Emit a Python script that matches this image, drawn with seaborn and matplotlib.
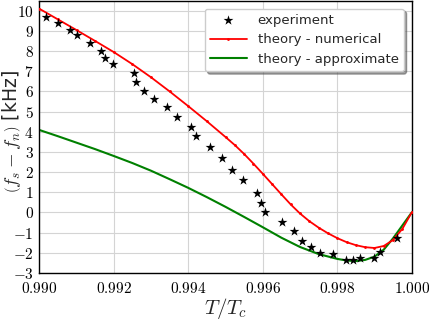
import matplotlib
matplotlib.use("Agg")
import matplotlib.pyplot as plt
from matplotlib.ticker import MultipleLocator, FuncFormatter
import seaborn as sns

# experiment (stars)
exp_T = [0.99017, 0.99050, 0.99083, 0.99100, 0.99137, 0.99166, 0.99177, 0.99199,
         0.99254, 0.99260, 0.99281, 0.99308, 0.99342, 0.99370, 0.99408, 0.99420,
         0.99458, 0.99490, 0.99518, 0.99547, 0.99585, 0.99596, 0.99607, 0.99652,
         0.99684, 0.99706, 0.99729, 0.99755, 0.99789, 0.99823, 0.99843, 0.99860,
         0.99899, 0.99915, 0.99960]
exp_df = [9.70, 9.39, 9.06, 8.80, 8.40, 8.02, 7.66, 7.34,
          6.93, 6.49, 6.04, 5.63, 5.21, 4.73, 4.24, 3.78,
          3.25, 2.70, 2.12, 1.59, 0.98, 0.48, 0.00, -0.47,
          -0.94, -1.40, -1.73, -2.02, -2.07, -2.37, -2.36, -2.27,
          -2.25, -1.98, -1.28]

# theory - numerical (red)
num_T = [0.9900, 0.9905, 0.9910, 0.9915, 0.9920, 0.9925, 0.9930, 0.9935, 0.9940,
         0.9945, 0.9950, 0.99525, 0.9955, 0.99575, 0.9960, 0.99625, 0.9965, 0.99675,
         0.9970, 0.99725, 0.9975, 0.99775, 0.9980, 0.99825, 0.9985, 0.99875,
         0.9990, 0.99925, 0.9995, 0.99975, 1.0000]
num_df = [10.10, 9.57, 9.04, 8.50, 7.95, 7.35, 6.70, 6.00, 5.27,
          4.52, 3.74, 3.34, 2.90, 2.42, 1.92, 1.41, 0.90, 0.40,
          -0.05, -0.43, -0.75, -1.03, -1.27, -1.47, -1.62, -1.72,
          -1.76, -1.66, -1.36, -0.81, 0.00]

# theory - approximate (green)
app_T = [0.9900, 0.9905, 0.9910, 0.9915, 0.9920, 0.9925, 0.9930, 0.9935, 0.9940,
         0.9945, 0.9950, 0.9955, 0.9960, 0.9965, 0.9970, 0.9975, 0.9980, 0.99825,
         0.9985, 0.99875, 0.9990, 0.99925, 0.9995, 0.99975, 1.0000]
app_df = [4.09, 3.78, 3.46, 3.14, 2.80, 2.45, 2.07, 1.65, 1.22,
          0.76, 0.28, -0.22, -0.73, -1.25, -1.71, -2.06, -2.30, -2.38,
          -2.41, -2.35, -2.19, -1.84, -1.28, -0.64, 0.00]

sns.set_theme(style="whitegrid")
plt.rcParams["font.family"] = ["DejaVu Sans"]
plt.rcParams["mathtext.fontset"] = "cm"

fig, ax = plt.subplots(figsize=(4.29, 3.21), dpi=100)
fig.subplots_adjust(left=0.0916, right=0.9597, top=0.998, bottom=0.1495)

sns.scatterplot(x=exp_T, y=exp_df, ax=ax, marker="*", s=55, color="black",
                edgecolor="black", linewidth=0, label="experiment", zorder=4)
sns.lineplot(x=num_T, y=num_df, ax=ax, color="red", lw=1.3, marker=".", ms=2.5,
             mec="red", label="theory - numerical", sort=False, estimator=None, zorder=3)
sns.lineplot(x=app_T, y=app_df, ax=ax, color="green", lw=1.5,
             label="theory - approximate", sort=False, estimator=None, zorder=2)

ax.set_xlim(0.990, 1.000)
ax.set_ylim(-3, 10.5)
ax.xaxis.set_major_locator(MultipleLocator(0.002))
ax.xaxis.set_minor_locator(MultipleLocator(0.001))
ax.yaxis.set_major_locator(MultipleLocator(1))
ax.yaxis.set_minor_locator(MultipleLocator(0.5))
ax.xaxis.set_major_formatter(FuncFormatter(lambda v, p: r"$%.3f$" % v))
ax.yaxis.set_major_formatter(FuncFormatter(lambda v, p: r"$%d$" % round(v)))
ax.tick_params(which="both", direction="in", colors="black", labelsize=11)
ax.tick_params(which="major", length=4, width=0.8)
ax.tick_params(which="minor", length=2.5, width=0.6)
ax.tick_params(axis="x", pad=6)
ax.tick_params(axis="y", pad=4)
ax.grid(True, which="major", color="#d4d4d4", lw=0.8)
for s in ax.spines.values():
    s.set_color("black")
    s.set_linewidth(1.0)

ax.set_xlabel(r"$T/T_c$", fontsize=15)
ax.xaxis.set_label_coords(0.5, -0.085)
ax.set_ylabel(r"$\left(f_s - f_n\right)$ [kHz]", fontsize=13.5)
ax.yaxis.set_label_coords(-0.043, 0.52)

leg = ax.legend(loc="upper right", fontsize=9.5, shadow=True, fancybox=True,
                handlelength=2.8, numpoints=1, framealpha=1, edgecolor="#cccccc",
                borderaxespad=0.6)

fig.savefig("out.png", dpi=100)
